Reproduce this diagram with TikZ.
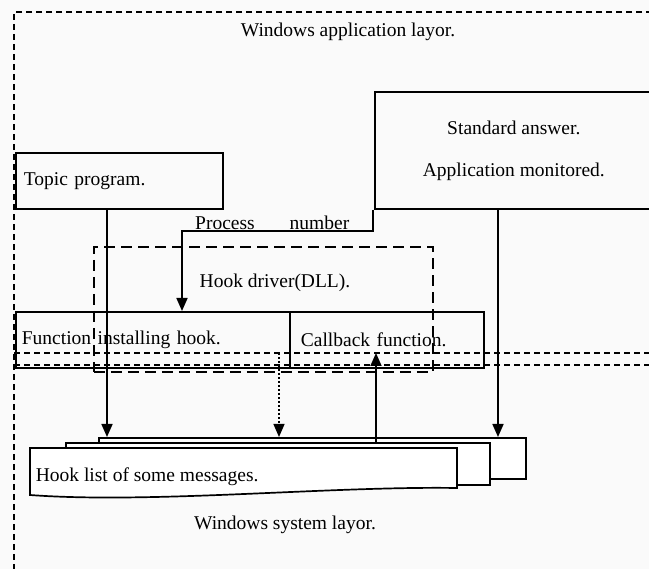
\documentclass[tikz,border=0pt]{standalone}
\usepackage{fontspec}
\setmainfont{Liberation Serif}
\usetikzlibrary{arrows.meta,positioning}

\begin{document}
\begin{tikzpicture}[
  x=1pt, y=-1pt,
  >={Triangle[length=13pt,width=11pt]},
  line width=1.7pt,
  lab/.style={font=\fontsize{19.5}{22}\selectfont, inner sep=0pt},
  box/.style={draw, rectangle, anchor=north west, inner ysep=0pt,
              font=\fontsize{19.5}{22}\selectfont},
  layer/.style={dash pattern=on 6pt off 4pt},
  dll/.style={draw, anchor=north west, dash pattern=on 11pt off 6pt},
  sheet/.style={draw, fill=white, anchor=north west, inner sep=0pt},
  hint/.style={line width=1.2pt, dash pattern=on 2pt off 2pt}
]

% --- canvas
\fill[gray!4] (0,0) rectangle (649,569);
\useasboundingbox (0,0) rectangle (649,569);

% --- layer borders
\coordinate (appNW) at (14,12);
\coordinate (appNE) at (652,12);
\coordinate (appSW) at (14,353);
\coordinate (appSE) at (652,353);
\coordinate (sysNW) at (14,365);
\coordinate (sysNE) at (652,365);
\coordinate (sysSW) at (14,572);

\draw[layer] (appNE) -- (appNW) -- (sysSW);
\draw[layer] (appSW) -- (appSE);
\draw[layer] (sysNW) -- (sysNE);

\node[lab] (applayer) at (348,32) {Windows application layor.};
\node[lab] (syslayer) at (285,525) {Windows system layor.};

% --- application side
\node[box, minimum width=207pt, minimum height=56pt, text width=191pt,
      inner xsep=8pt, align=left] (topic) at (15,152) {Topic program.};
\node[box, minimum width=278pt, minimum height=117pt, align=center]
      (monitor) at (374,91) {Standard answer.\\[20pt]Application monitored.};

% --- hook driver
\node[dll, minimum width=339pt, minimum height=125pt] (driver) at (93,246) {};
\node[lab] (drivername) at (275,283) {Hook driver(DLL).};

\node[box, minimum width=274pt, minimum height=56pt, text width=262pt,
      inner xsep=6pt, align=left] (hookfn) at (15,311) {Function installing hook.};
\node[box, minimum width=194pt, minimum height=56pt, text width=172pt,
      inner xsep=11pt, align=left] (callback) at (289,311) {Callback function.};

% --- hook list (three sheets)
\node[sheet, minimum width=427pt, minimum height=41pt] (list3) at (98,437) {};
\node[sheet, minimum width=424pt, minimum height=42pt] (list2) at (65,442) {};
\coordinate (list1NW) at (30,448);
\coordinate (list1NE) at (457,448);
\coordinate (list1SE) at (457,488);
\coordinate (list1SW) at (30,495);
\draw[fill=white] (list1NW) -- (list1NE) -- (list1SE)
      .. controls (330,486) and (150,504) .. (list1SW) -- cycle;
\node[lab, anchor=west] (list1) at (35,477) {Hook list of some messages.};

% --- connectors
\coordinate (cTopic) at (107,0);
\coordinate (cHint) at (279,0);
\coordinate (cBack) at (376,0);
\coordinate (cMon) at (498,0);
\coordinate (procR) at (373,231);
\coordinate (procL) at (182,231);

\draw[->] (cTopic |- topic.south) -- (cTopic |- list3.north);
\draw[->, hint] (cHint |- appSW) -- (cHint |- list3.north);
\draw[->] (cBack |- list2.north) -- (cBack |- appSW);
\draw[->] (cMon |- monitor.south) -- (cMon |- list3.north);

\draw[->] (procR |- monitor.south) -- (procR)
  -- node[pos=.28, above, lab]{number} node[pos=.775, above, lab]{Process} (procL)
  -- (procL |- hookfn.north);

\end{tikzpicture}
\end{document}
